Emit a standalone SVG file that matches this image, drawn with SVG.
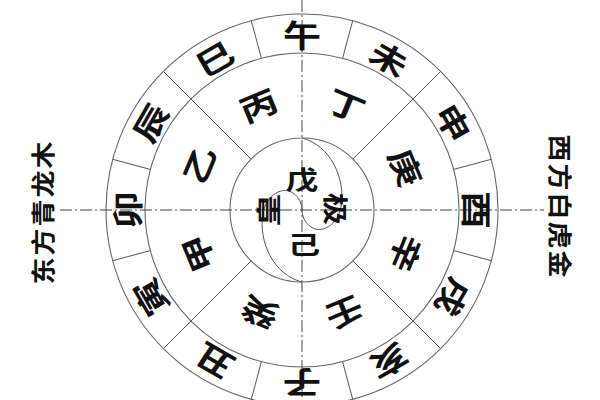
<svg xmlns="http://www.w3.org/2000/svg" width="600" height="400" viewBox="0 0 600 400">
<style>
.c{fill:none;stroke:#666;stroke-width:1.1}
.d{fill:none;stroke:#555;stroke-width:1}
.ax{fill:none;stroke:#444;stroke-width:1;stroke-dasharray:12 3 2 3}
.t{font-family:"Noto Sans CJK SC","Noto Sans CJK TC",sans-serif;font-weight:700;fill:#111;text-anchor:middle;dominant-baseline:central}
.b{font-size:34px}
.s{font-size:34px}
.m{font-size:29px}
.side{font-size:27px;letter-spacing:2px}
</style>
<rect width="600" height="400" fill="#fff"/>
<g id="rings">
<circle class="c" cx="302" cy="210" r="196"/>
<circle class="c" cx="302" cy="210" r="157"/>
<circle class="c" cx="302" cy="210" r="72"/>
</g>
<g id="connectors">
<g id="branch-dividers">
<line class="d" x1="342.6" y1="58.3" x2="352.7" y2="20.7"/>
<line class="d" x1="413" y1="99" x2="440.6" y2="71.4"/>
<line class="d" x1="453.7" y1="169.4" x2="491.3" y2="159.3"/>
<line class="d" x1="453.7" y1="250.6" x2="491.3" y2="260.7"/>
<line class="d" x1="413" y1="321" x2="440.6" y2="348.6"/>
<line class="d" x1="342.6" y1="361.7" x2="352.7" y2="399.3"/>
<line class="d" x1="261.4" y1="361.7" x2="251.3" y2="399.3"/>
<line class="d" x1="191" y1="321" x2="163.4" y2="348.6"/>
<line class="d" x1="150.3" y1="250.6" x2="112.7" y2="260.7"/>
<line class="d" x1="150.3" y1="169.4" x2="112.7" y2="159.3"/>
<line class="d" x1="191" y1="99" x2="163.4" y2="71.4"/>
<line class="d" x1="261.4" y1="58.3" x2="251.3" y2="20.7"/>
</g>
<g id="stem-dividers">
<line class="d" x1="352.9" y1="159.1" x2="413" y2="99"/>
<line class="d" x1="352.9" y1="260.9" x2="413" y2="321"/>
<line class="d" x1="251.1" y1="260.9" x2="191" y2="321"/>
<line class="d" x1="251.1" y1="159.1" x2="191" y2="99"/>
</g>
<g id="axes">
<line class="ax" x1="60" y1="210" x2="544" y2="210"/>
<line class="ax" x1="302" y1="0" x2="302" y2="400"/>
</g>
<g id="yinyang">
<path class="d" d="M302,138 C330,145 346,178 341,207 C337,226 321,234 311,227 C305,223 302,216 302,210"/>
<path class="d" d="M302,282 C274,275 258,242 263,213 C267,194 283,186 293,193 C299,197 302,204 302,210"/>
</g>
</g>
<g id="branches">
<text class="t b" transform="translate(302,34) rotate(0) scale(1.12,0.9)">午</text>
<text class="t b" transform="translate(390,57.5) rotate(30) scale(1.12,0.9)">未</text>
<text class="t b" transform="translate(454.5,122) rotate(60) scale(1.12,0.9)">申</text>
<text class="t b" transform="translate(478,210) rotate(90) scale(1.12,0.9)">酉</text>
<text class="t b" transform="translate(454.5,298) rotate(120) scale(1.12,0.9)">戌</text>
<text class="t b" transform="translate(390,362.5) rotate(150) scale(1.12,0.9)">亥</text>
<text class="t b" transform="translate(302,384) rotate(180) scale(1.12,0.9)">子</text>
<text class="t b" transform="translate(214,362.5) rotate(210) scale(1.12,0.9)">丑</text>
<text class="t b" transform="translate(149.5,298) rotate(240) scale(1.12,0.9)">寅</text>
<text class="t b" transform="translate(126,210) rotate(270) scale(1.12,0.9)">卯</text>
<text class="t b" transform="translate(149.5,122) rotate(300) scale(1.12,0.9)">辰</text>
<text class="t b" transform="translate(214,57.5) rotate(330) scale(1.12,0.9)">巳</text>
</g>
<g id="stems">
<text class="t s" transform="translate(258,104) rotate(-22.5) scale(1.1,0.9)">丙</text>
<text class="t s" transform="translate(347,104) rotate(22.5) scale(1.1,0.9)">丁</text>
<text class="t s" transform="translate(407,167) rotate(67.5) scale(1.1,0.9)">庚</text>
<text class="t s" transform="translate(407,254) rotate(112.5) scale(1.1,0.9)">辛</text>
<text class="t s" transform="translate(345,314) rotate(157.5) scale(1.1,0.9)">壬</text>
<text class="t s" transform="translate(259,314) rotate(202.5) scale(1.1,0.9)">癸</text>
<text class="t s" transform="translate(197,254) rotate(247.5) scale(1.1,0.9)">甲</text>
<text class="t s" transform="translate(198,164) rotate(292.5) scale(1.1,0.9)">乙</text>
</g>
<g id="center">
<text class="t m" transform="translate(302,178) scale(1.12,0.88)">戊</text>
<text class="t m" transform="translate(304,243) scale(1.12,0.88)">己</text>
<text class="t m" transform="translate(267,210) rotate(-90) scale(1.12,0.88)">皇</text>
<text class="t m" transform="translate(337,209) rotate(90) scale(1.12,0.88)">极</text>
</g>
<g id="west-label">
<text class="t side" transform="translate(562,207) rotate(90) scale(1,0.9)">西方白虎金</text>
</g>
<g id="east-label">
<text class="t side" transform="translate(41,212) rotate(-90) scale(1,0.9)">东方青龙木</text>
</g>
</svg>
